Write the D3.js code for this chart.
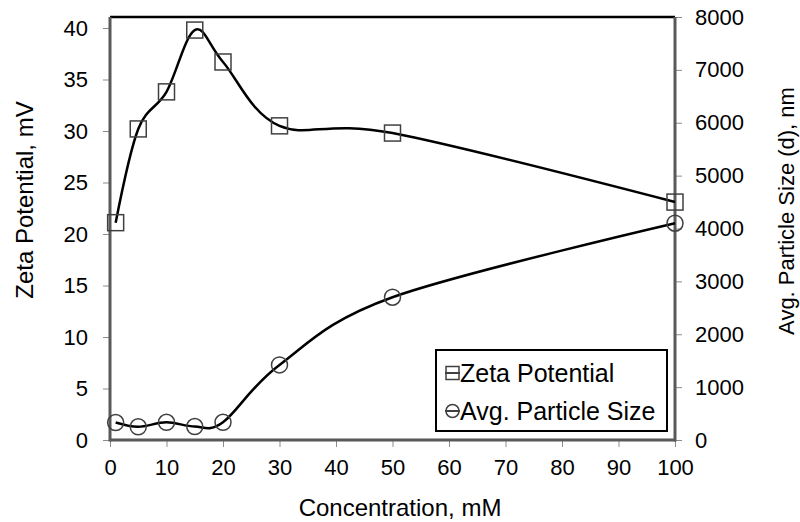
<!DOCTYPE html>
<html>
<head>
<meta charset="utf-8">
<script src="https://cdn.jsdelivr.net/npm/d3@7"></script>
<style>
  html, body { margin: 0; padding: 0; background: #fff; }
  svg { display: block; font-family: "Liberation Sans", Arial, sans-serif; }
</style>
</head>
<body>
<svg id="chart" width="800" height="522"></svg>
<script>
// Concentration (mM) and the two measured series
const concentration = [1, 5, 10, 15, 20, 30, 50, 100];
const zetaPotential = [21.1, 30.2, 33.8, 39.8, 36.7, 30.5, 29.8, 23.1];
const particleSize = [330, 250, 335, 255, 335, 1420, 2700, 4100];

const xTicks = [0, 10, 20, 30, 40, 50, 60, 70, 80, 90, 100];
const leftTicks = [0, 5, 10, 15, 20, 25, 30, 35, 40];
const rightTicks = [0, 1000, 2000, 3000, 4000, 5000, 6000, 7000, 8000];

const seriesNames = ["Zeta Potential", "Avg. Particle Size"];

const svg = d3.select("#chart");
const plot = { left: 110, right: 675, top: 17, bottom: 440 };
const tickFont = 22;

const x = d3.scaleLinear().domain([0, 100]).range([plot.left, plot.right]);
const yLeft = d3.scaleLinear().domain([0, 40]).range([plot.bottom, 28]);
const yRight = d3.scaleLinear().domain([0, 8000]).range([plot.bottom, plot.top]);

const axisGray = "#595959";

// plot-area border (top edge)
svg.append("line")
  .attr("x1", plot.left).attr("x2", plot.right)
  .attr("y1", plot.top).attr("y2", plot.top)
  .attr("stroke", "#000").attr("stroke-width", 2.5);

function styleAxis(g) {
  g.select(".domain").remove();
  g.selectAll(".tick line").attr("stroke", "#8c8c8c").attr("stroke-width", 1);
  g.selectAll(".tick text")
    .attr("fill", "#000")
    .style("font-size", tickFont + "px")
    .style("font-family", "Liberation Sans, Arial, sans-serif");
}

// bottom axis
const gx = svg.append("g").attr("transform", `translate(0,${plot.bottom})`)
  .call(d3.axisBottom(x).tickValues(xTicks).tickSize(7).tickPadding(12).tickFormat(d3.format("d")));
styleAxis(gx);

// left axis
const gl = svg.append("g").attr("transform", `translate(${plot.left},0)`)
  .call(d3.axisLeft(yLeft).tickValues(leftTicks).tickSize(7).tickPadding(15).tickFormat(d3.format("d")));
styleAxis(gl);

// right axis
const gr = svg.append("g").attr("transform", `translate(${plot.right},0)`)
  .call(d3.axisRight(yRight).tickValues(rightTicks).tickSize(7).tickPadding(13).tickFormat(d3.format("d")));
styleAxis(gr);

// axis lines
svg.append("line").attr("x1", plot.left).attr("x2", plot.left)
  .attr("y1", plot.top).attr("y2", plot.bottom + 1.5)
  .attr("stroke", axisGray).attr("stroke-width", 3);
svg.append("line").attr("x1", plot.right).attr("x2", plot.right)
  .attr("y1", plot.top).attr("y2", plot.bottom + 1.5)
  .attr("stroke", axisGray).attr("stroke-width", 3);
svg.append("line").attr("x1", plot.left).attr("x2", plot.right)
  .attr("y1", plot.bottom).attr("y2", plot.bottom)
  .attr("stroke", axisGray).attr("stroke-width", 3);

// smoothed lines
const curve = d3.curveCatmullRom.alpha(0);
const zetaLine = d3.line().x((d, i) => x(concentration[i])).y(d => yLeft(d)).curve(curve);
const sizeLine = d3.line().x((d, i) => x(concentration[i])).y(d => yRight(d)).curve(curve);

svg.append("path").attr("d", zetaLine(zetaPotential))
  .attr("fill", "none").attr("stroke", "#000").attr("stroke-width", 2.5);
svg.append("path").attr("d", sizeLine(particleSize))
  .attr("fill", "none").attr("stroke", "#000").attr("stroke-width", 2.5);

const markerStroke = "#404040";
const sq = 16;
svg.append("g").selectAll("rect").data(zetaPotential).join("rect")
  .attr("x", (d, i) => x(concentration[i]) - sq / 2)
  .attr("y", d => yLeft(d) - sq / 2)
  .attr("width", sq).attr("height", sq)
  .attr("fill", "none").attr("stroke", markerStroke).attr("stroke-width", 1.5);

svg.append("g").selectAll("circle").data(particleSize).join("circle")
  .attr("cx", (d, i) => x(concentration[i]))
  .attr("cy", d => yRight(d))
  .attr("r", 8)
  .attr("fill", "none").attr("stroke", markerStroke).attr("stroke-width", 1.5);

// axis titles
svg.append("text")
  .attr("x", 400).attr("y", 516)
  .attr("text-anchor", "middle")
  .style("font-size", "24px")
  .text("Concentration, mM");

svg.append("text")
  .attr("transform", "translate(33,200) rotate(-90)")
  .attr("text-anchor", "middle")
  .style("font-size", "24px")
  .text("Zeta Potential, mV");

svg.append("text")
  .attr("transform", "translate(794,211) rotate(-90)")
  .attr("text-anchor", "middle")
  .style("font-size", "22px")
  .text("Avg. Particle Size (d), nm");

// legend
const legend = svg.append("g");
legend.append("rect")
  .attr("x", 436).attr("y", 350).attr("width", 231).attr("height", 81)
  .attr("fill", "#fff").attr("stroke", "#000").attr("stroke-width", 2);

const rows = legend.selectAll("g.row").data(seriesNames).join("g")
  .attr("class", "row")
  .attr("transform", (d, i) => `translate(0,${373 + i * 38})`);
rows.append("line").attr("x1", 445).attr("x2", 460).attr("y1", 0).attr("y2", 0)
  .attr("stroke", "#000").attr("stroke-width", 1.5);
rows.filter((d, i) => i === 0).append("rect")
  .attr("x", 446).attr("y", -6.5).attr("width", 13).attr("height", 13)
  .attr("fill", "none").attr("stroke", markerStroke).attr("stroke-width", 1.5);
rows.filter((d, i) => i === 1).append("circle")
  .attr("cx", 452.5).attr("cy", 0).attr("r", 6.5)
  .attr("fill", "none").attr("stroke", markerStroke).attr("stroke-width", 1.5);
rows.append("text")
  .attr("x", 460).attr("y", 8.5)
  .style("font-size", "25px")
  .text(d => d);
</script>
</body>
</html>
